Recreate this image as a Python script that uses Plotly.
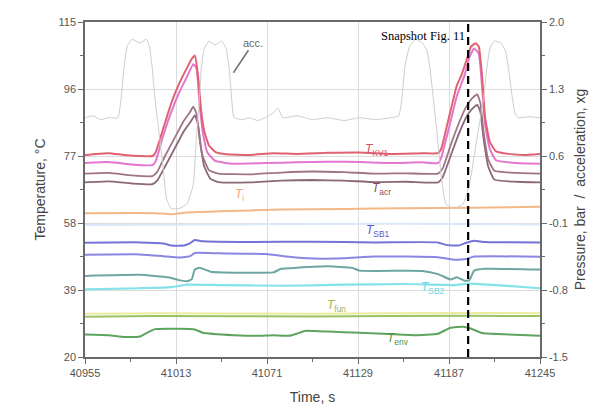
import plotly.graph_objects as go

# ---------------- data ----------------
x_ticks = [40955, 41013, 41071, 41129, 41187, 41245]
y_left_ticks = [20, 39, 58, 77, 96, 115]
y_right_ticks = [-1.5, -0.8, -0.1, 0.6, 1.3, 2.0]

t_kv1 = [40955, 40962, 40970, 40980, 40990, 40998, 41000, 41005, 41010, 41015, 41020, 41023, 41025, 41027, 41029, 41031, 41034, 41038, 41045, 41060, 41075, 41090, 41110, 41130, 41150, 41170, 41180, 41182, 41187, 41192, 41195, 41198, 41201, 41204, 41206, 41208, 41210, 41213, 41217, 41225, 41235, 41245]
v_kv1 = [77.3, 77.6, 77.8, 77.3, 77.0, 77.0, 78, 85, 92, 97.5, 102, 104.5, 105.5, 100, 90, 84, 80, 78.2, 77.5, 77.3, 77.8, 77.6, 77.9, 78.0, 77.6, 77.8, 77.8, 79, 88, 97, 100, 104, 108, 109, 108, 100, 88, 81, 78.3, 77.6, 77.3, 77.6]

t_mag = [40955, 40970, 40985, 40998, 41000, 41005, 41010, 41015, 41020, 41024, 41026, 41028, 41030, 41033, 41038, 41050, 41070, 41090, 41110, 41130, 41150, 41170, 41180, 41182, 41187, 41192, 41197, 41200, 41203, 41206, 41208, 41210, 41213, 41217, 41230, 41245]
v_mag = [75.0, 75.3, 74.6, 74.4, 75.5, 83, 89.5, 95, 99.5, 103, 102, 92, 84, 78, 75.6, 74.8, 75.0, 75.2, 75.4, 75.3, 75.0, 75.2, 75.0, 76.5, 85, 94, 100, 105, 107.5, 106, 97, 86, 79, 75.8, 75.0, 74.8]

t_acr = [40955, 40970, 40985, 40998, 41001, 41006, 41012, 41018, 41022, 41024, 41026, 41028, 41030, 41034, 41040, 41060, 41080, 41100, 41120, 41140, 41160, 41180, 41183, 41188, 41193, 41198, 41202, 41205, 41207, 41209, 41212, 41216, 41230, 41245]
v_acr = [72.0, 72.2, 71.5, 71.3, 72.5, 77, 82, 87, 89.5, 91, 89, 82, 77, 73, 72.0, 71.8, 72.3, 72.6, 72.4, 72.0, 72.1, 72.0, 73.5, 80, 86, 91, 93.5, 94.5, 92, 84, 76, 72.8, 72.2, 72.0]

t_dark = [40955, 40970, 40985, 40998, 41001, 41006, 41012, 41018, 41022, 41025, 41027, 41029, 41031, 41035, 41040, 41060, 41080, 41100, 41120, 41140, 41160, 41180, 41183, 41188, 41193, 41198, 41202, 41205, 41207, 41209, 41212, 41216, 41230, 41245]
v_dark = [69.5, 69.8, 69.2, 69.0, 70, 74, 79, 84, 86.5, 88.5, 86, 79, 74, 70.5, 69.6, 69.5, 70.0, 70.2, 70.0, 69.6, 69.7, 69.5, 71, 77, 83, 88, 90.5, 91.5, 89.5, 82, 74, 70.3, 69.7, 69.5]

t_i = [40955, 41000, 41010, 41020, 41040, 41080, 41120, 41160, 41200, 41245]
v_i = [60.8, 60.8, 60.5, 61.0, 61.3, 61.8, 62.0, 62.2, 62.3, 62.6]

t_faint = [40955, 41050, 41150, 41245]
v_faint = [57.4, 57.6, 57.8, 57.6]

t_sb1 = [40955, 40990, 41005, 41010, 41018, 41022, 41025, 41030, 41060, 41100, 41140, 41180, 41185, 41193, 41198, 41203, 41210, 41245]
v_sb1 = [52.4, 52.5, 52.2, 51.6, 51.6, 52.3, 53.2, 52.8, 52.6, 52.7, 52.5, 52.5, 51.8, 51.6, 52.4, 53.0, 52.6, 52.5]

t_pb = [40955, 40990, 41005, 41015, 41022, 41025, 41040, 41070, 41085, 41100, 41120, 41140, 41180, 41190, 41198, 41203, 41215, 41245]
v_pb = [49.0, 49.1, 48.6, 48.2, 48.6, 49.5, 49.4, 49.2, 48.4, 47.9, 48.0, 48.5, 48.3, 47.6, 47.8, 48.5, 48.6, 48.4]

t_teal = [40955, 40990, 41008, 41015, 41020, 41023, 41025, 41028, 41035, 41060, 41075, 41080, 41090, 41110, 41125, 41130, 41170, 41180, 41188, 41192, 41197, 41200, 41203, 41210, 41245]
v_teal = [43.0, 43.3, 42.6, 41.8, 41.5, 42.0, 44.8, 45.3, 44.2, 43.9, 44.0, 45.0, 45.3, 45.7, 45.3, 44.5, 44.4, 43.5, 42.0, 42.6, 41.6, 41.8, 44.5, 45.0, 44.8]

t_cyan = [40955, 40990, 41010, 41020, 41040, 41080, 41120, 41160, 41190, 41200, 41220, 41245]
v_cyan = [39.2, 39.5, 39.8, 40.5, 40.4, 40.2, 40.5, 40.7, 40.4, 40.8, 40.3, 39.5]

t_fun = [40955, 41000, 41100, 41200, 41245]
v_fun = [31.4, 31.6, 31.5, 31.7, 31.6]
v_fun_y = [32.3, 32.4, 32.3, 32.5, 32.4]

t_env = [40955, 40970, 40980, 40990, 40995, 41000, 41015, 41025, 41030, 41050, 41065, 41075, 41085, 41090, 41095, 41110, 41130, 41145, 41165, 41180, 41188, 41196, 41200, 41208, 41225, 41245]
v_env = [26.4, 26.2, 25.7, 25.8, 27.0, 27.9, 28.0, 27.8, 26.9, 26.2, 26.0, 26.2, 26.0, 26.6, 27.4, 27.2, 26.9, 26.6, 26.2, 26.6, 28.3, 28.6, 28.2, 26.8, 26.4, 26.0]

t_acc = [40955, 40960, 40965, 40970, 40976, 40978, 40980, 40982, 40985, 40990, 40994, 40996, 40998, 40999, 41001, 41004, 41007, 41010, 41015, 41020, 41024, 41026, 41028, 41029, 41031, 41034, 41038, 41042, 41045, 41047, 41048, 41050, 41055, 41060, 41065, 41070, 41075, 41078, 41081, 41090, 41100, 41110, 41120, 41130, 41140, 41150, 41155, 41157, 41159, 41162, 41166, 41170, 41173, 41175, 41177, 41179, 41182, 41185, 41190, 41196, 41200, 41205, 41209, 41211, 41213, 41216, 41220, 41223, 41225, 41227, 41229, 41231, 41238, 41245]
v_acc = [1.0, 1.02, 0.98, 1.0, 1.0, 1.2, 1.55, 1.75, 1.82, 1.78, 1.82, 1.75, 1.5, 1.3, 1.0, 0.6, 0.15, 0.05, 0.05, 0.1, 0.3, 0.8, 1.2, 1.5, 1.72, 1.8, 1.76, 1.8, 1.72, 1.5, 1.3, 1.0, 0.98, 1.0, 0.97, 1.0, 1.05, 1.1, 1.0, 1.02, 0.98, 1.0, 0.97, 1.0, 0.98, 1.0, 1.02, 1.2, 1.55, 1.75, 1.82, 1.78, 1.7, 1.5, 1.2, 0.9, 0.4, 0.1, 0.05, 0.1, 0.3, 0.8, 1.2, 1.5, 1.72, 1.8, 1.78, 1.7, 1.5, 1.25, 1.05, 1.0, 1.01, 1.0]

snapshot_t = 41199.2

# ---------------- figure ----------------
fig = go.Figure()

def add(t, v, color, width=1.8, yaxis="y"):
    fig.add_trace(go.Scatter(x=t, y=v, mode="lines", yaxis=yaxis,
                             line=dict(color=color, width=width, shape="spline", smoothing=0.4),
                             hoverinfo="skip"))

add(t_acc, v_acc, "#cdcdcd", 1, "y2")
add(t_faint, v_faint, "#dce8f6", 2)
add(t_i, v_i, "#f2b888", 2)
add(t_dark, v_dark, "#8a6878", 1.8)
add(t_acr, v_acr, "#a07488", 1.8)
add(t_mag, v_mag, "#e276d0", 2)
add(t_kv1, v_kv1, "#e06272", 2)
add(t_sb1, v_sb1, "#7474d8", 2)
add(t_pb, v_pb, "#8a86e2", 2)
add(t_teal, v_teal, "#6ea6a2", 2)
add(t_cyan, v_cyan, "#86e2ea", 2.2)
add(t_fun, v_fun_y, "#ecec9e", 2)
add(t_fun, v_fun, "#9cc064", 2)
add(t_env, v_env, "#5ea45e", 2)

fig.add_shape(type="line", x0=snapshot_t, x1=snapshot_t, xref="x", y0=0, y1=1.0, yref="paper",
              line=dict(color="black", width=2.2, dash="8px,5px"))

def lab(text, sub, t, v, color):
    fig.add_annotation(x=t, y=v, xref="x", yref="y", showarrow=False,
                       text=f"<i>{text}</i><sub>{sub}</sub>",
                       font=dict(family="Arial", size=12, color=color))

lab("T", "KV1", 41141, 78.6, "#d84e62")
lab("T", "acr", 41144, 67.6, "#8a4c60")
lab("T", "i", 41053.5, 66.0, "#f0a870")
lab("T", "SB1", 41142, 55.8, "#5858c8")
lab("T", "SB2", 41177, 39.6, "#66d6e6")
lab("T", "fun", 41115, 34.4, "#a8b050")
lab("T", "env", 41154.5, 25.1, "#4a944a")

fig.add_annotation(x=41049.6, y=1.47, xref="x", yref="y2", text="acc.", showarrow=True,
                   ax=20, ay=-30, arrowhead=0, arrowwidth=1.6, arrowcolor="#777",
                   font=dict(family="Arial", size=11, color="#666"))

fig.add_annotation(x=snapshot_t, y=0.985, xref="x", yref="paper", xanchor="right", yanchor="top",
                   xshift=-1, text="Snapshot Fig. 11", showarrow=False,
                   font=dict(family="Liberation Serif, Times New Roman, serif", size=12.5, color="black"))

axis_common = dict(showline=True, linecolor="#6a6a6a", linewidth=1.5,
                   ticks="outside", ticklen=5, tickcolor="#6a6a6a", tickwidth=1.2,
                   tickfont=dict(family="Arial", size=11, color="#555"),
                   showgrid=True, gridcolor="#dcdcdc", gridwidth=1, zeroline=False,
                   automargin=False)

fig.update_layout(
    width=590, height=410,
    margin=dict(l=85, r=50, t=22, b=53, autoexpand=False),
    paper_bgcolor="white", plot_bgcolor="white",
    showlegend=False,
    xaxis=dict(range=[40955, 41245], tickvals=x_ticks, ticktext=[str(v) for v in x_ticks],
               mirror=True,
               minor=dict(tickvals=[40984, 41042, 41100, 41158, 41216], ticks="outside",
                          ticklen=3, tickcolor="#6a6a6a", showgrid=False),
               title=dict(text="Time, s", font=dict(family="Arial", size=14, color="#444"), standoff=14),
               **axis_common),
    yaxis=dict(range=[20, 115], tickvals=y_left_ticks, mirror=True,
               minor=dict(tickvals=[29.5, 48.5, 67.5, 86.5, 105.5], ticks="outside",
                          ticklen=3, tickcolor="#6a6a6a", showgrid=False),
               title=dict(text="Temperature, °C", font=dict(family="Arial", size=14, color="#444"), standoff=10),
               **axis_common),
    yaxis2=dict(range=[-1.5, 2.0], tickvals=y_right_ticks,
                ticktext=[f"{v:.1f}" for v in y_right_ticks],
                overlaying="y", side="right",
                minor=dict(tickvals=[-1.15, -0.45, 0.25, 0.95, 1.65], ticks="outside",
                           ticklen=3, tickcolor="#6a6a6a", showgrid=False),
                title=dict(text="Pressure, bar  /  acceleration, xg",
                           font=dict(family="Arial", size=14, color="#444"), standoff=8),
                **{**axis_common, "showgrid": False}),
)

fig.write_html("out.html")
